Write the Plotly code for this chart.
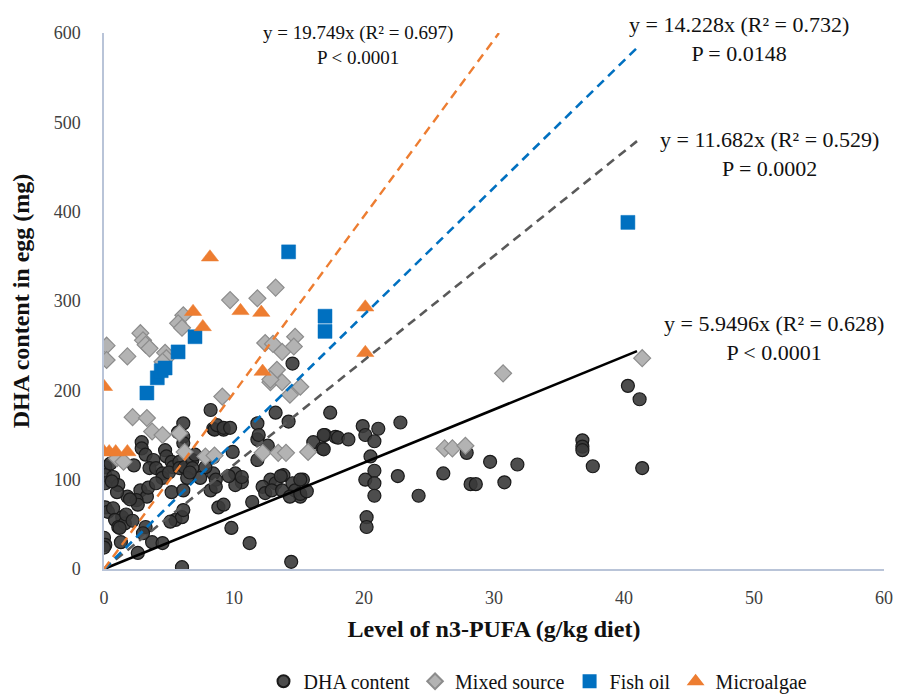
import plotly.graph_objects as go

# ---------------- data ----------------
dha_x = [8.2, 8.4, 6.1, 5.7, 6.1, 6.1, 8.5, 9.2, 2.9, 2.9, 3.2, 4.7, 4.8, 5.2, 5.3, 5.8,
         3.8, 3.5, 4.0, 4.5, 4.5, 5.0, 5.8, 6.2, 6.8, 6.8, 6.4, 0.1, 0.1, 0.1, 0.7, 1.1,
         0.1, 0.3, 0.7, 1.4, 0.85, 1.1, 1.6, 1.8, 1.7, 2.8, 3.3, 3.4, 2.5, 2.6, 3.2, 3.0,
         5.2, 6.1, 5.5, 6.0, 6.1, 5.1, 0.0, 0.1, 2.6, 3.7, 4.5, 6.0, 8.2, 8.4, 7.4, 7.8,
         8.8, 8.4, 6.6, 13.2, 14.2, 17.4, 17.0, 17.8, 16.1, 16.8, 11.8, 11.8, 11.9, 9.9,
         11.8, 8.7, 9.2, 9.7, 10.1, 10.6, 10.1, 10.6, 8.6, 8.6, 9.2, 11.4, 12.8, 13.2,
         12.2, 12.4, 12.9, 13.8, 13.7, 14.5, 14.7, 15.3, 15.1, 14.3, 9.8, 11.2, 14.4,
         19.9, 21.1, 22.8, 20.1, 20.8, 16.9, 16.9, 18.0, 20.5, 20.8, 20.1, 20.8, 20.8,
         20.2, 20.2, 22.6, 24.2, 15.1, 15.1, 26.1, 27.9, 28.2, 28.6, 29.7, 30.8, 31.8,
         36.8, 36.8, 36.8, 37.6, 40.3, 41.2, 41.4, 14.5, 0.0, 0.5, 1.0, 2.0, 2.3, 0.6,
         1.3, 4.0, 7.0, 9.6, 12.6, 13.6, 15.6, 18.8, 2.2, 1.2]
dha_y = [178, 157, 163, 153, 148, 141, 156, 156, 142, 135, 128, 133, 126, 120, 114, 120,
         122, 113, 113, 107, 102, 108, 113, 114, 122, 113, 102, 114, 105, 96, 103, 94,
         69, 64, 68, 58, 55, 47, 51, 81, 61, 88, 81, 91, 77, 72, 47, 40,
         86, 88, 55, 58, 66, 53, 35, 27, 18, 30, 29, 2, 88, 107, 102, 114,
         69, 125, 108, 175, 165, 175, 150, 148, 142, 135, 163, 145, 150, 131,
         122, 161, 158, 158, 107, 97, 94, 103, 100, 92, 72, 75, 100, 96,
         92, 85, 88, 105, 88, 96, 88, 100, 81, 81, 46, 29, 8,
         160, 157, 164, 150, 143, 150, 134, 147, 126, 110, 100, 96, 82,
         58, 47, 104, 82, 100, 84, 107, 130, 95, 95, 120, 97, 117,
         144, 137, 133, 115, 205, 190, 113, 230, 24, 118, 86, 78, 116, 98,
         30, 96, 128, 104, 138, 104, 87, 145, 54, 46]

mix_x = [0.2, 0.2, 1.8, 2.8, 3.0, 3.2, 3.5, 4.7, 4.8, 4.5, 6.1, 5.7, 6.0, 9.7, 11.8,
         13.2, 12.4, 14.7, 14.6, 13.7, 13.3, 12.8, 13.7, 15.1, 14.3, 9.1, 2.2, 3.3,
         3.7, 4.5, 5.8, 7.8, 8.5, 6.2, 1.0, 1.5, 12.2, 13.4, 14.0, 15.7, 26.2, 26.8,
         27.8, 30.7, 41.4, 12.8, 13.0]
mix_y = [250, 234, 238, 264, 256, 251, 247, 242, 236, 232, 284, 275, 270, 301, 303,
         315, 253, 260, 249, 243, 223, 209, 209, 204, 195, 193, 170, 169,
         154, 150, 152, 126, 127, 131, 124, 120, 130, 130, 130, 131, 135, 135,
         138, 219, 236, 212, 252]

fish_x = [3.3, 4.1, 4.4, 4.7, 5.7, 7.0, 14.2, 17.0, 17.0, 40.3]
fish_y = [197, 214, 222, 225, 243, 260, 355, 283, 266, 388]

algae_x = [0.0, 0.0, 0.4, 0.9, 1.8, 6.85, 7.6, 8.15, 10.5, 12.1, 12.2, 20.1, 20.1]
algae_y = [204, 131, 131, 131, 131, 288, 271, 349, 289, 287, 221, 293, 242]

# regression through origin: slope, end of fitted range
trend_names = ["DHA content", "Mixed source", "Fish oil", "Microalgae"]
trend_slopes = [5.9496, 11.682, 14.228, 19.749]
trend_xend = [41.0, 41.0, 41.2, 30.38]
trend_labels = [
    "y = 5.9496x (R² = 0.628)<br>P < 0.0001",
    "y = 11.682x (R² = 0.529)<br>P = 0.0002",
    "y = 14.228x (R² = 0.732)<br>P = 0.0148",
    "y = 19.749x (R² = 0.697)<br>P < 0.0001",
]

x_ticks = [0, 10, 20, 30, 40, 50, 60]
y_ticks = [0, 100, 200, 300, 400, 500, 600]

# ---------------- figure ----------------
SERIF = "Liberation Serif"
fig = go.Figure()

fig.add_trace(go.Scatter(
    x=dha_x, y=dha_y, mode="markers", name="DHA content",
    marker=dict(symbol="circle", size=13, color="rgba(58,58,58,0.9)",
                line=dict(color="#1a1a1a", width=1.2))))
fig.add_trace(go.Scatter(
    x=mix_x, y=mix_y, mode="markers", name="Mixed source",
    marker=dict(symbol="diamond", size=13, color="#b3b3b3",
                line=dict(color="#8c8c8c", width=1.2))))
fig.add_trace(go.Scatter(
    x=fish_x, y=fish_y, mode="markers", name="Fish oil",
    marker=dict(symbol="square", size=14, color="#0070c0",
                line=dict(color="#0070c0", width=0.5))))
fig.add_trace(go.Scatter(
    x=algae_x, y=algae_y, mode="markers", name="Microalgae",
    marker=dict(symbol="triangle-up", size=15, color="#ed7d31",
                line=dict(color="#ed7d31", width=0.5))))

line_styles = [
    dict(color="#000000", width=2.6, dash="solid"),
    dict(color="#595959", width=2.6, dash="9px,6px"),
    dict(color="#0070c0", width=2.6, dash="9px,6px"),
    dict(color="#ed7d31", width=2.4, dash="9px,6px"),
]
for name, s, xe, ls in zip(trend_names, trend_slopes, trend_xend, line_styles):
    fig.add_trace(go.Scatter(x=[0, xe], y=[0, s * xe], mode="lines",
                             line=ls, showlegend=False, hoverinfo="skip",
                             name=name + " trend"))

ann_pos = [(0.859, 0.431, 22), (0.853, 0.775, 22), (0.814, 0.989, 22), (0.326, 0.977, 19)]
for txt, (ax, ay, fs) in zip(trend_labels, ann_pos):
    fig.add_annotation(x=ax, y=ay, xref="paper", yref="paper", text=txt,
                       showarrow=False, align="center", xanchor="center", yanchor="middle",
                       font=dict(family=SERIF, size=fs, color="#111111"))

axis_line = "#b9c4d8"
fig.update_layout(
    width=906, height=697,
    margin=dict(l=96, r=30, t=25, b=136),
    plot_bgcolor="white", paper_bgcolor="white",
    font=dict(family=SERIF, color="#333333"),
    xaxis=dict(range=[0, 60], tickvals=x_ticks, showgrid=False, zeroline=False,
               showline=True, linecolor=axis_line, linewidth=1.5, ticks="",
               ticklabelstandoff=12,
               tickfont=dict(family=SERIF, size=18, color="#404040"),
               title=dict(text="<b>Level of n3-PUFA (g/kg diet)</b>", standoff=13,
                          font=dict(family=SERIF, size=24, color="#111111"))),
    yaxis=dict(range=[0, 600], tickvals=y_ticks, showgrid=False, zeroline=False,
               showline=True, linecolor=axis_line, linewidth=1.5, ticks="",
               ticklabelstandoff=18,
               tickfont=dict(family=SERIF, size=18, color="#404040"),
               title=dict(text="<b>DHA content in egg (mg)</b>", standoff=17,
                          font=dict(family=SERIF, size=24, color="#111111"))),
    legend=dict(orientation="h", x=0.585, xanchor="center", xref="container",
                y=0.034, yref="container", yanchor="middle",
                font=dict(family=SERIF, size=20, color="#111111"),
                itemsizing="constant", traceorder="normal", itemwidth=30),
    showlegend=True,
)

fig.write_html("out.html")
